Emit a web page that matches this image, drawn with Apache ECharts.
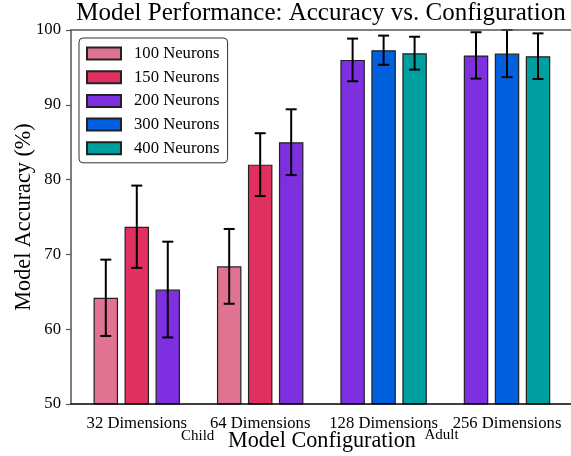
<!DOCTYPE html>
<html><head><meta charset="utf-8">
<script src="https://cdn.jsdelivr.net/npm/echarts@6/dist/echarts.min.js"></script>
<style>html,body{margin:0;padding:0;background:#fff}#c{width:571px;height:456px}</style>
</head><body><div id="c"></div><script>
// ---- data ----
const categories = ['32 Dimensions', '64 Dimensions', '128 Dimensions', '256 Dimensions'];
const seriesNames = ['100 Neurons', '150 Neurons', '200 Neurons', '300 Neurons', '400 Neurons'];
const acc100 = [64.2, 68.4, null, null];
const err100 = [5.1, 5.0, null, null];
const acc150 = [73.7, 82.0, null, null];
const err150 = [5.5, 4.2, null, null];
const acc200 = [65.3, 85.0, 96.0, 96.6];
const err200 = [6.4, 4.4, 2.85, 3.1];
const acc300 = [null, null, 97.3, 96.85];
const err300 = [null, null, 1.95, 3.15];
const acc400 = [null, null, 96.9, 96.5];
const err400 = [null, null, 2.2, 3.05];
const yTicks = [50, 60, 70, 80, 90, 100];
const groupNotes = ['Child', 'Adult'];

// ---- style ----
const palette = ['#E07391', '#E03060', '#7E2FE0', '#0060E0', '#009F9F'];
const FONT = 'Liberation Serif';
const BAR_W = 24.5, BAR_GAP = 0.265;
const PITCH = BAR_W * (1 + BAR_GAP);
const CAP = 5.5;

const accs = [acc100, acc150, acc200, acc300, acc400];
const errs = [err100, err150, err200, err300, err400];
function slotOf(k, g) {
  let s = 0;
  for (let j = 0; j < k; j++) if (accs[j][g] != null) s++;
  return s;
}
const nSlots = Math.max(...categories.map((c, g) => accs.filter(a => a[g] != null).length));

const series = [];
seriesNames.forEach((name, k) => {
  for (let s = 0; s < nSlots; s++) {
    const data = categories.map((c, g) => (accs[k][g] != null && slotOf(k, g) === s) ? accs[k][g] : '-');
    if (data.some(v => v !== '-')) {
      series.push({
        type: 'bar', name, stack: 'slot' + s, xAxisIndex: 2, yAxisIndex: 1,
        data, barWidth: BAR_W, barGap: (BAR_GAP * 100) + '%',
        itemStyle: { color: palette[k], borderColor: '#222', borderWidth: 1.2 },
        emphasis: { disabled: true }, z: 2
      });
    }
  }
});
const errData = [];
seriesNames.forEach((name, k) => {
  categories.forEach((c, g) => {
    if (accs[k][g] != null) errData.push([g, accs[k][g], errs[k][g], slotOf(k, g)]);
  });
});
series.push({
  type: 'custom', name: 'errors', xAxisIndex: 2, yAxisIndex: 1, z: 5,
  encode: { x: 0, y: 1 }, data: errData, silent: true,
  renderItem(params, api) {
    const g = api.value(0), v = api.value(1), e = api.value(2), s = api.value(3);
    const top = api.coord([g, v + e]), bot = api.coord([g, v - e]);
    const x = top[0] + (s - (nSlots - 1) / 2) * PITCH;
    const st = { stroke: '#000', lineWidth: 2 };
    return { type: 'group', children: [
      { type: 'line', shape: { x1: x, y1: top[1], x2: x, y2: bot[1] }, style: st },
      { type: 'line', shape: { x1: x - CAP, y1: top[1], x2: x + CAP, y2: top[1] }, style: st },
      { type: 'line', shape: { x1: x - CAP, y1: bot[1], x2: x + CAP, y2: bot[1] }, style: st }
    ]};
  }
});

const chart = echarts.init(document.getElementById('c'), null, { renderer: 'canvas' });
const hiddenVal = { show: false };
chart.setOption({
  animation: false,
  backgroundColor: '#fff',
  textStyle: { fontFamily: FONT },
  title: {
    text: 'Model Performance: Accuracy vs. Configuration',
    left: 321, top: 1, padding: 0, textAlign: 'center',
    textStyle: { fontFamily: FONT, fontSize: 25, fontWeight: 'normal', color: '#000' }
  },
  legend: {
    data: seriesNames, orient: 'vertical', left: 79, top: 38,
    padding: [7, 8, 6, 7], itemGap: 6.7, itemWidth: 34, itemHeight: 12, icon: 'rect',
    backgroundColor: '#fff', borderColor: '#333', borderWidth: 1, borderRadius: 4,
    formatter: name => '{t|' + name + '}',
    textStyle: {
      fontFamily: FONT, fontSize: 16.67, fontWeight: 'normal', color: '#000', lineHeight: 17,
      rich: { t: { fontFamily: FONT, fontSize: 16.67, color: '#000', lineHeight: 17, padding: [0, 0, 0, 8] } }
    },
    selectedMode: false
  },
  grid: [
    { left: 71, top: 30, width: 510, height: 374, outerBoundsMode: 'none', containLabel: false },
    { left: 75.08, top: 30, width: 493.64, height: 374, outerBoundsMode: 'none', containLabel: false }
  ],
  xAxis: [
    { type: 'value', gridIndex: 0, min: 0, max: 1, position: 'bottom', z: 10,
      axisLine: { show: true, lineStyle: { color: '#000', width: 1.5 } },
      axisTick: hiddenVal, axisLabel: hiddenVal, splitLine: hiddenVal },
    { type: 'value', gridIndex: 0, min: 0, max: 1, position: 'top', z: 10,
      axisLine: { show: true, lineStyle: { color: '#555', width: 1.5 } },
      axisTick: hiddenVal, axisLabel: hiddenVal, splitLine: hiddenVal },
    { type: 'category', gridIndex: 1, data: categories,
      axisLine: hiddenVal, axisTick: hiddenVal, splitLine: hiddenVal,
      axisLabel: { fontFamily: FONT, fontSize: 16.67, color: '#000', margin: 11, interval: 0 },
      name: 'Model Configuration', nameLocation: 'middle', nameGap: 26, nameMoveOverlap: false,
      nameTextStyle: { fontFamily: FONT, fontSize: 22.2, color: '#000' } }
  ],
  yAxis: [
    { type: 'value', gridIndex: 0, min: yTicks[0], max: yTicks[yTicks.length - 1], interval: yTicks[1] - yTicks[0], z: 10,
      axisLine: { show: true, lineStyle: { color: '#555', width: 1.5 } },
      axisTick: { show: true, length: 5, lineStyle: { color: '#555', width: 1.2 } },
      axisLabel: { fontFamily: FONT, fontSize: 16.67, color: '#000', margin: 10 },
      splitLine: hiddenVal,
      name: 'Model Accuracy (%)', nameLocation: 'middle', nameGap: 36, nameRotate: 90, nameMoveOverlap: false,
      nameTextStyle: { fontFamily: FONT, fontSize: 22.2, color: '#000' } },
    { type: 'value', gridIndex: 1, min: yTicks[0], max: yTicks[yTicks.length - 1], show: false }
  ],
  graphic: [
    { type: 'text', left: 181, top: 429, style: { text: groupNotes[0], font: '15px "Liberation Serif"', fill: '#000' } },
    { type: 'text', left: 424.5, top: 428, style: { text: groupNotes[1], font: '15px "Liberation Serif"', fill: '#000' } }
  ],
  series
});
</script></body></html>
